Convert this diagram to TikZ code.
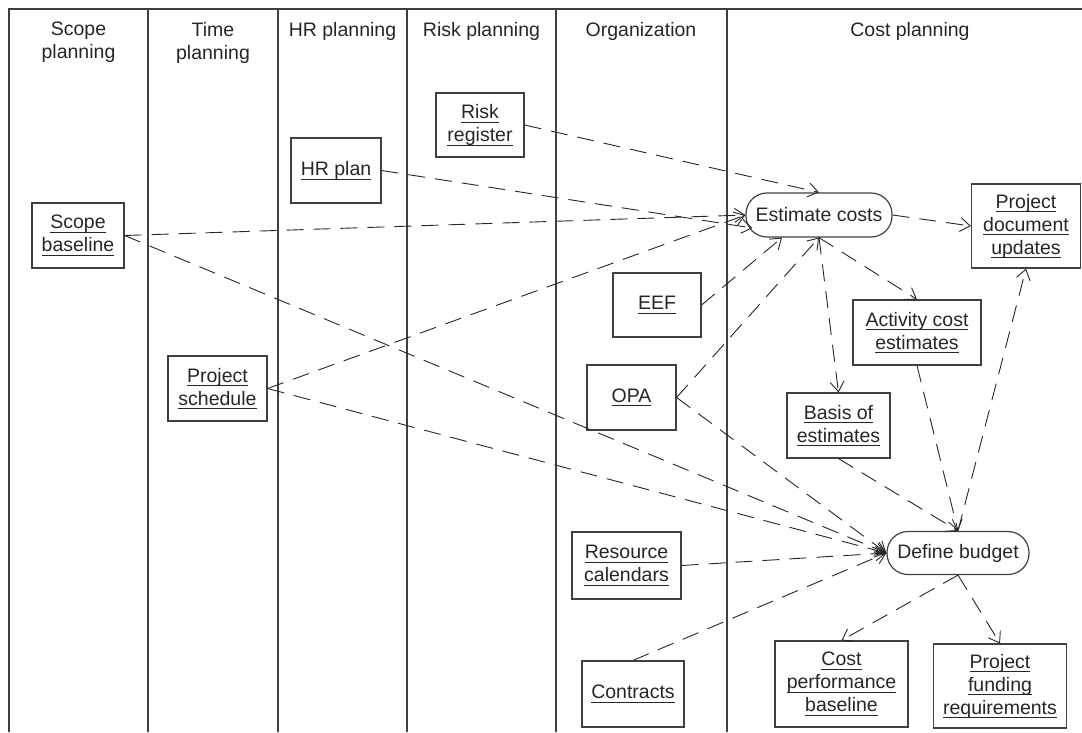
\documentclass[tikz,border=0pt]{standalone}
\usepackage{fontspec}
\setmainfont{Liberation Sans}
\usetikzlibrary{arrows.meta}
\newsavebox{\ulbox}
\newcommand{\ulin}[1]{\sbox{\ulbox}{#1}\rlap{\rule[-4pt]{\wd\ulbox}{1pt}}\usebox{\ulbox}}

\begin{document}
\begin{tikzpicture}
    [%%%%%%%%%%%%%%%%%%%%%%%%%%%%%%%%%%%%%%%%%%%%%%%%%%%%%%%%%%
        x=1pt,y=-1pt,>={Straight Barb[length=10pt,width=14pt]},
        font=\fontsize{19.5}{23}\selectfont,
        lane/.style={draw=black!75,line width=1.4pt},
        head/.style={anchor=north,inner sep=0pt,align=center,text=black!85},
        doc/.style 2 args={draw=black!75,line width=1.2pt,align=center,inner sep=0pt,
                           minimum width=#1pt,minimum height=#2pt,text=black!85},
        proc/.style 2 args={doc={#1}{#2},rounded corners=21pt},
        flow/.style={->,black!85,line width=0.9pt,dash pattern=on 17pt off 10pt}
    ]%%%%%%%%%%%%%%%%%%%%%%%%%%%%%%%%%%%%%%%%%%%%%%%%%%%%%%%%%%
    \useasboundingbox (0,0) rectangle (1082,732);

    % swimlanes
    \draw[lane] (9,732) -- (9,9) -- (1082,9);
    \foreach \x in {148,278,407,556,727}
        \draw[lane] (\x,9) -- (\x,732);

    \node[head] (h1) at (78.5,22)  {Scope\\planning};
    \node[head] (h2) at (213,22)   {Time\\planning};
    \node[head] (h3) at (342.5,22) {HR planning};
    \node[head] (h4) at (481.5,22) {Risk planning};
    \node[head] (h5) at (641,22)   {Organization};
    \node[head] (h6) at (910,22)   {Cost planning};

    % inputs
    \node[doc={92}{65}]  (scope)     at (78,235.5)  {\ulin{Scope}\\\ulin{baseline}};
    \node[doc={99}{65}]  (sched)     at (217.5,388.5) {\ulin{Project}\\\ulin{schedule}};
    \node[doc={90}{65}]  (hr)        at (336,170.5) {\ulin{HR plan}};
    \node[doc={88}{64}]  (risk)      at (480,125)   {\ulin{Risk}\\\ulin{register}};
    \node[doc={88}{64}]  (eef)       at (657,305)   {\ulin{EEF}};
    \node[doc={89}{65}]  (opa)       at (631.5,397.5) {\ulin{OPA}};
    \node[doc={109}{67}] (rc)        at (626.5,565.5) {\ulin{Resource}\\\ulin{calendars}};
    \node[doc={102}{66}] (contracts) at (633,694)   {\ulin{Contracts}};

    % processes and outputs
    \node[proc={146}{44}] (ec)  at (819,215)    {Estimate costs};
    \node[doc={109}{84}]  (pdu) at (1026,226)   {\ulin{Project}\\\ulin{document}\\\ulin{updates}};
    \node[doc={128}{65}]  (ace) at (917,332.5)  {\ulin{Activity cost}\\\ulin{estimates}};
    \node[doc={103}{65}]  (boe) at (838.5,425.5) {\ulin{Basis of}\\\ulin{estimates}};
    \node[proc={142}{43}] (db)  at (958,553)    {Define budget};
    \node[doc={133}{86}]  (cpb) at (841.5,684)  {\ulin{Cost}\\\ulin{performance}\\\ulin{baseline}};
    \node[doc={133}{84}]  (pfr) at (1000,686)   {\ulin{Project}\\\ulin{funding}\\\ulin{requirements}};

    % estimate costs
    \draw[flow] (risk.east) -- (ec.north);
    \draw[flow] (hr.east) -- ([shift={(7,13)}]ec.west);
    \draw[flow] (scope.east) -- (ec.west);
    \draw[flow] (sched.east) -- (ec.west);
    \draw[flow] (eef.east) -- ([xshift=-37pt]ec.south);
    \draw[flow] (opa.east) -- (ec.south);
    \draw[flow] (ec.east) -- (pdu.west);
    \draw[flow] (ec.south) -- (ace.north);
    \draw[flow] (ec.south) -- (boe.north);

    % define budget
    \draw[flow] (ace.south) -- (db.north);
    \draw[flow] (boe.south) -- (db.north);
    \draw[flow] (db.north) -- (pdu.south);
    \draw[flow] (scope.east) -- (db.west);
    \draw[flow] (sched.east) -- (db.west);
    \draw[flow] (opa.east) -- (db.west);
    \draw[flow] (rc.east) -- (db.west);
    \draw[flow] (contracts.north) -- (db.west);
    \draw[flow] (db.south) -- (cpb.north);
    \draw[flow] (db.south) -- (pfr.north);
\end{tikzpicture}
\end{document}
